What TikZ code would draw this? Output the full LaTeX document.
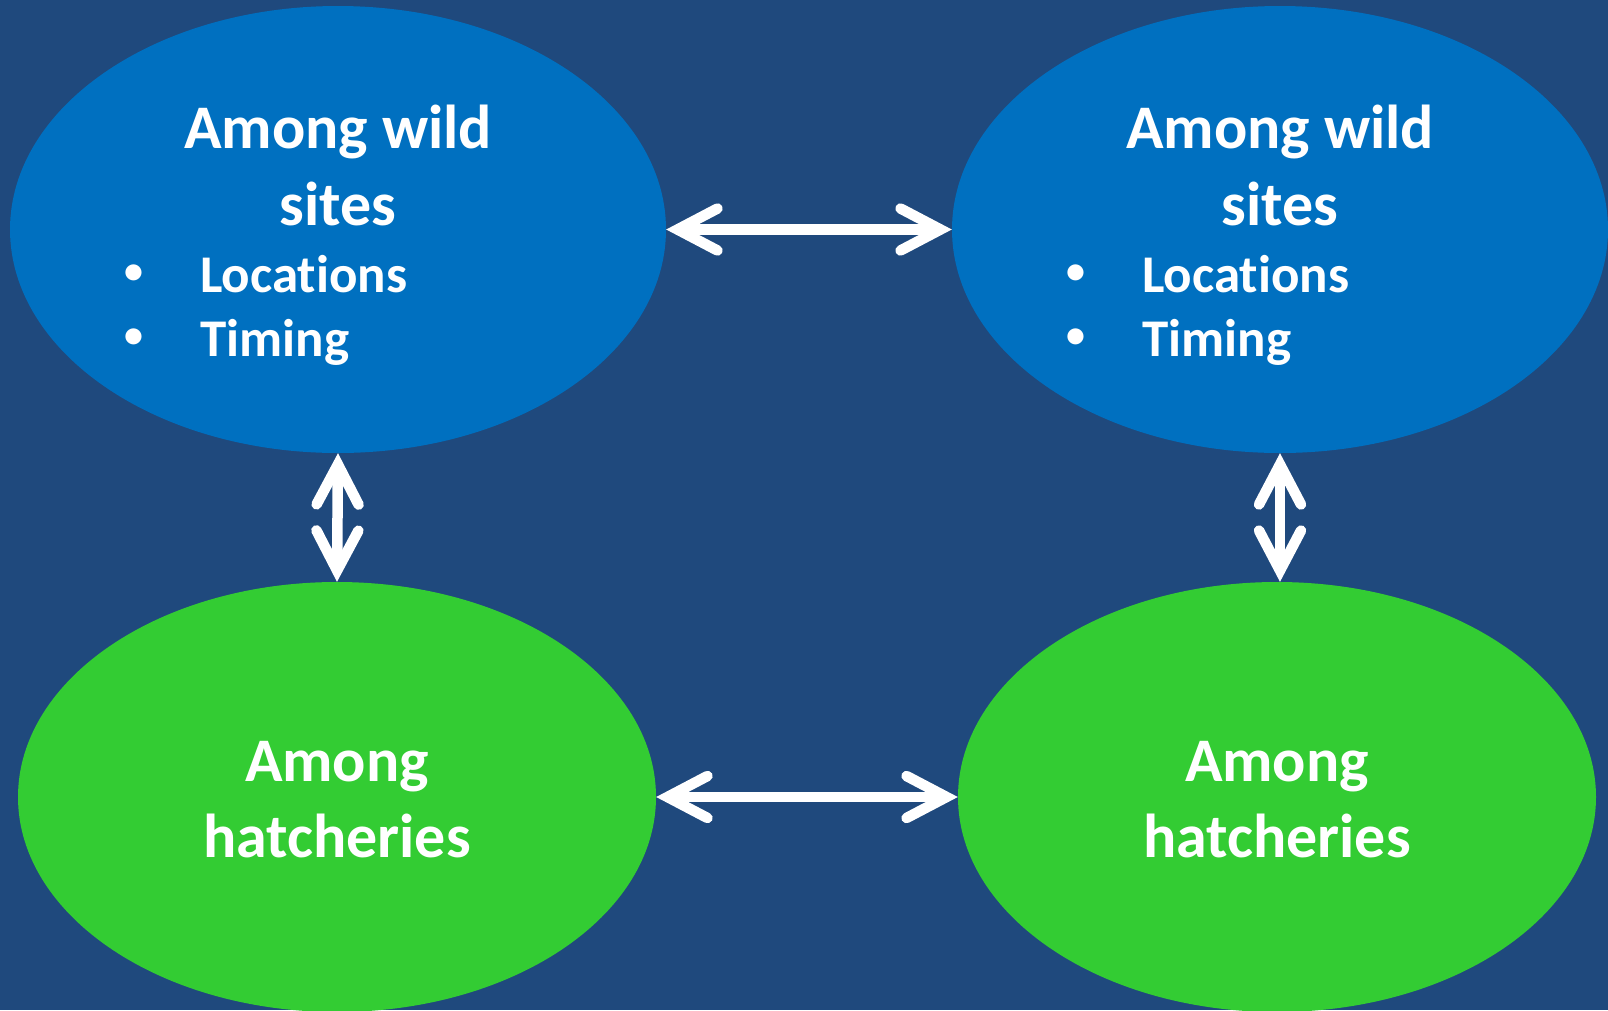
\documentclass[tikz,border=0pt]{standalone}
\usepackage{fontspec}
\setmainfont{Carlito}[Ligatures=NoCommon]
\usetikzlibrary{shapes.geometric,arrows.meta}
\definecolor{bgblue}{HTML}{1F497D}
\definecolor{ellblue}{HTML}{0070C0}
\definecolor{ellgreen}{HTML}{33CC33}
\begin{document}
\begin{tikzpicture}[x=1pt,y=-1pt,
  oval/.style={ellipse, inner sep=0pt, draw=none},
  wildoval/.style={oval, fill=ellblue, minimum width=656pt, minimum height=447pt},
  hatchoval/.style={oval, fill=ellgreen, minimum width=638pt, minimum height=430pt},
  bigtxt/.style={text=white, font=\bfseries\fontsize{62}{75}\selectfont, anchor=base, inner sep=0pt},
  smalltxt/.style={text=white, font=\bfseries\fontsize{53}{64}\selectfont, anchor=base west, inner sep=0pt},
  bul/.style={text=white, font=\bfseries\fontsize{38}{46}\selectfont, anchor=center, inner sep=0pt},
  link/.style={white, line width=10.5pt,
    {Straight Barb[length=40pt,width=42pt,line cap=round]}-{Straight Barb[length=40pt,width=42pt,line cap=round]}}]
\fill[bgblue] (0,0) rectangle (1608,1010);
\useasboundingbox (0,0) rectangle (1608,1010);

\node[wildoval] (tl) at (338,229.5) {};
\node[wildoval] (tr) at (1280,229.5) {};
\node[hatchoval] (bl) at (337,797) {};
\node[hatchoval] (br) at (1277,797) {};

% texts top-left
\node[bigtxt] (tl1) at (338,148) {Among wild};
\node[bigtxt] (tl2) at (338,225) {sites};
\node[bul] (tlb1) at (134,274) {•};
\node[smalltxt] (tl3) at (200,292) {Locations};
\node[bul] (tlb2) at (134,338) {•};
\node[smalltxt] (tl4) at (200,356) {Timing};

% texts top-right
\node[bigtxt] (tr1) at (1280,148) {Among wild};
\node[bigtxt] (tr2) at (1280,225) {sites};
\node[bul] (trb1) at (1076,274) {•};
\node[smalltxt] (tr3) at (1142,292) {Locations};
\node[bul] (trb2) at (1076,338) {•};
\node[smalltxt] (tr4) at (1142,356) {Timing};

% texts bottom
\node[bigtxt] (bl1) at (337,781) {Among};
\node[bigtxt] (bl2) at (337,857) {hatcheries};
\node[bigtxt] (br1) at (1277,781) {Among};
\node[bigtxt] (br2) at (1277,857) {hatcheries};

% connectors
\draw[link] (tl.east) -- (tr.west);
\draw[link] (bl.east) -- (br.west);
\draw[link] (tl.south) -- (bl.north);
\draw[link] (tr.south) -- (tr.south |- br.north);
\end{tikzpicture}
\end{document}
